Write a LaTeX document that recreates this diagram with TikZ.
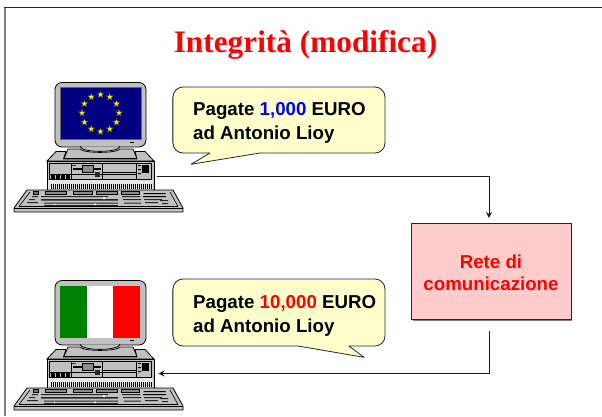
\documentclass[tikz,border=0pt]{standalone}
\usepackage{fontspec}
\setmainfont{Liberation Sans}
\newfontfamily\titlefont{Liberation Serif}
\usetikzlibrary{arrows.meta}
\definecolor{caseg}{HTML}{C0C0C0}
\definecolor{callout}{HTML}{FFFFCC}
\definecolor{netfill}{HTML}{FFCCCC}
\definecolor{euroblue}{HTML}{000080}
\definecolor{itgreen}{HTML}{008000}
\definecolor{linek}{HTML}{1A1A1A}
\newcommand{\eustar}[1]{%
  \path (100.5,113) ++(#1:18.5) coordinate (s);
  \draw[fill=yellow,draw=black!70,line width=.35pt] (s) +(90:-3.6) -- +(126:-1.5) -- +(162:-3.6) -- +(198:-1.5) -- +(234:-3.6) -- +(270:-1.5) -- +(306:-3.6) -- +(342:-1.5) -- +(18:-3.6) -- +(54:-1.5) -- cycle;
}
\tikzset{
  pcline/.style={draw=black,line width=.8pt},
  thin line/.style={draw=black,line width=.6pt},
  msgtext/.style={anchor=base west,inner sep=0pt,align=left,font=\fontsize{18.7}{23.5}\selectfont\bfseries},
  conn/.style={draw=linek,line width=1pt,-{Stealth[length=6pt,width=6pt]}},
  bubble/.style={draw=black!85,line width=.8pt,fill=callout,line join=round},
  computer/.pic={
    % monitor
    \draw[pcline,fill=caseg,rounded corners=7pt] (55,82.5) rectangle (146,147);
    % stand and base
    \draw[pcline,fill=caseg] (80,146.5) .. controls (82,153) and (118,153) .. (120,146.5);
    \draw[pcline,fill=caseg] (68,149) -- (80,149) .. controls (84,153.5) and (116,153.5) .. (120,149) -- (133,149) -- (137,158.5) -- (64,158.5) -- cycle;
    % case top
    \draw[pcline,fill=caseg] (47,161) -- (56,151.5) -- (66,151.5) -- (63.5,159) -- (137,159) -- (135,151.5) -- (145,151.5) -- (154,161) -- cycle;
    % case front
    \draw[pcline,fill=caseg] (47,161) rectangle (154,190);
    \fill[black!10] (48,180) rectangle (153,189.5);
    \draw[thin line] (49.5,163.5) rectangle (151,179.5);
    \draw[thin line] (71.5,163.5) -- (71.5,179.5) (102.5,163.5) -- (102.5,179.5) (136.5,163.5) -- (136.5,179.5);
    \draw[thin line] (71.5,174) -- (136.5,174) (102.5,172) -- (136.5,172);
    \draw[thin line] (49.5,174) -- (71.5,174);
    \foreach \kx in {50.5,55.5,60.5,65.5}{\fill[black] (\kx,175) rectangle +(4,3.5);}
    \fill[black] (73,168) rectangle (101,170);
    \draw[thin line,fill=black!45] (82,165) rectangle (93,172);
    \fill[black!85] (95,172) rectangle (100,177);
    \fill[black!80] (72,164.5) rectangle (76,165.5);
    \fill[black] (142,165) rectangle (149,173);
    \fill[black] (138,165) rectangle (141,166) (138,169) rectangle (141,170) (138,173) rectangle (141,174);
    \foreach \vx in {51,53,...,151}{\fill[black] (\vx,184) rectangle +(1.1,5);}
    % keyboard
    \draw[pcline,fill=caseg] (14,208) -- (27,190) -- (173,190) -- (183,208) -- (183,212) -- (14,212) -- cycle;
    \draw[pcline] (14,208) -- (183,208);
    \draw[thin line] (19,206.5) -- (30,192) (178,206.5) -- (170,192) (19,206.5) -- (178,206.5);
    \draw[thin line,fill=black!55] (33,191.5) rectangle (38,194.5);
    \foreach \ka/\kb in {45.5/66.5,73/92.5,96.5/117,121/139}{\draw[thin line,fill=black!45] (\ka,191.5) rectangle (\kb,194.5);}
    \fill[black] (143.5,193) rectangle (165.5,194) (143,196) rectangle (166,197);
    \fill[black!85] (32,196) rectangle (38,197) (29,199) rectangle (35,200) (27,202) rectangle (38,203);
    \fill[black!85] (41,196) rectangle (108,197) (41,199) rectangle (118,200.5) (44,202.5) rectangle (118,203.5) (44,205) rectangle (118,205.8);
    \fill[black!85] (122,196) rectangle (140,197) (123,199) rectangle (141,200) (124,202.5) rectangle (141,203.5);
    \fill[black!85] (144,199) rectangle (162,200) (145,202) rectangle (158,203) (160,200) rectangle (168,201) (162,203) rectangle (168,204);
    \fill[white] (103,197) rectangle (105,199) (54,203.5) rectangle (55,205) (94,203.5) rectangle (96,205);
  }
}
\begin{document}
\begin{tikzpicture}[x=1pt,y=-1pt]
\useasboundingbox (0,0) rectangle (602,416);
\fill[white] (0,0) rectangle (602,416);
% slide frame
\draw[gray,line width=2pt] (5,7) -- (5,416);
\draw[black!85,line width=1.2pt] (4,7.3) -- (602,7.3);
% title
\node[anchor=base,inner sep=0pt,text=red,font=\titlefont\fontsize{31.3}{36}\selectfont\bfseries] (title) at (305.5,52) {Integrità (modifica)};
% computers
\pic (pceu) at (0,0) {computer};
\fill[euroblue] (60,87) rectangle (141,139);
\draw[black!60,line width=.5pt] (60,139) rectangle (141,87);
\fill[black] (130,141.5) rectangle (134,143);
\foreach \a in {0,30,...,330}{\eustar{\a}}
\pic (pcit) at (0,198) {computer};
\fill[itgreen] (60,286) rectangle (87.3,338);
\fill[white] (87.3,286) rectangle (113,338);
\fill[red] (113,286) rectangle (140,338);
\fill[black] (130,339.5) rectangle (134,341);
% callouts
\draw[gray,line width=1.2pt] (172.6,97) -- (172.6,143);
\draw[bubble] (210,153) [rounded corners=10pt] -- (173,153) -- (173,87) -- (385,87) -- (385,153) [sharp corners] -- (260,153) -- (191,164.3) -- cycle;
\node[msgtext] (msgone) at (193,139) {Pagate \textcolor{blue}{1,000} EURO\\ad Antonio Lioy};
\draw[gray,line width=1.2pt] (172.6,289) -- (172.6,336);
\draw[bubble] (298,346) [rounded corners=10pt] -- (173,346) -- (173,279) -- (385,279) -- (385,346) [sharp corners] -- (349,346) -- (364,357.3) -- cycle;
\node[msgtext] (msgtwo) at (193,332) {Pagate \textcolor{red}{10,000} EURO\\ad Antonio Lioy};
% network
\fill[gray] (412.5,224.5) rectangle (572,320.5);
\node[draw=black!85,line width=.9pt,fill=netfill,minimum width=160pt,minimum height=96pt,inner sep=0pt,align=center,text=red,font=\fontsize{18.7}{22}\selectfont\bfseries] (rete) at (491,271) {\rule{0pt}{18pt}Rete di\\comunicazione};
% connectors
\coordinate (pcout) at (157,176);
\coordinate (retein) at (489,218);
\coordinate (reteout) at (489,331);
\coordinate (pcin) at (158.5,373.5);
\draw[conn] (pcout) -| (retein);
\draw[conn] (reteout) |- (pcin);
\end{tikzpicture}
\end{document}
